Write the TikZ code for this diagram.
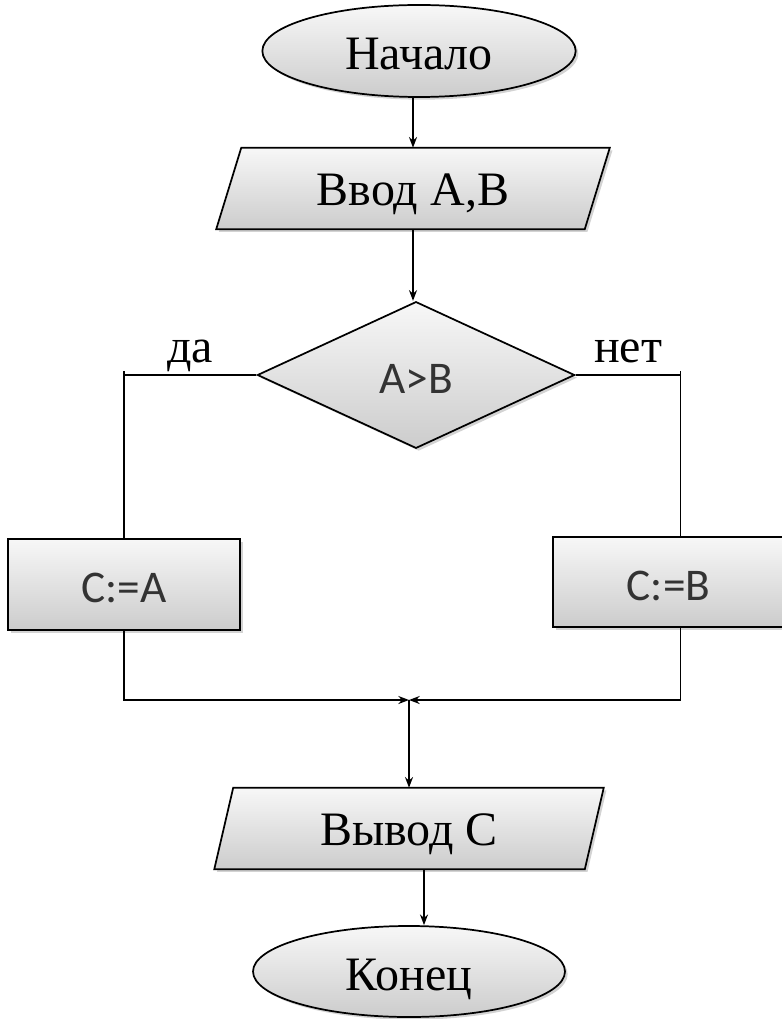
\documentclass[tikz,border=0pt]{standalone}
\usepackage{fontspec}
\setmainfont{Liberation Serif}
\newfontfamily\calibri{Carlito}
\usetikzlibrary{shapes.geometric,shadows,arrows.meta,backgrounds}
\begin{document}
\begin{tikzpicture}[x=0.75pt,y=-0.75pt,
  base/.style={draw=black, line width=1.3pt, top color=gray!6, bottom color=gray!40,
    drop shadow={shadow xshift=2pt,shadow yshift=-2pt,opacity=0.35}, inner sep=0pt},
  bigfont/.style={font=\fontsize{36}{42}\selectfont},
  cfont/.style={font=\calibri\fontsize{34}{40}\selectfont, text=black!80, text height=27.6pt, text depth=0pt},
  term/.style={base, ellipse, minimum width=235pt, minimum height=69pt, bigfont, text height=28.3pt, text depth=0pt},
  io/.style={inner sep=0pt, minimum height=60.75pt, bigfont, text height=24.8pt, text depth=0pt},
  proc/.style={base, rectangle, cfont},
  decis/.style={base, diamond, minimum width=238pt, minimum height=110pt, cfont},
  conn/.style={line width=1.25pt},
  arr/.style={conn, -{Stealth[length=8pt,width=6pt]}},
  lab/.style={bigfont, inner sep=0pt, anchor=base}
]
\useasboundingbox (0,0) rectangle (781,1019);

\node[term] (start) at (419,51) {Начало};
\node[io, minimum width=276pt] (in) at (413,188.5) {Ввод А,В};
\node[decis] (dec) at (416,375) {A>B};
\node[proc, minimum width=174pt, minimum height=68.25pt] (boxA) at (124,584.5) {C:=A};
\node[proc, minimum width=173.25pt, minimum height=67.5pt] (boxB) at (668.5,582) {C:=B};
\coordinate (bBt) at ([xshift=9pt]boxB.north);
\coordinate (bBb) at ([xshift=9pt]boxB.south);
\coordinate (m) at (409,700);
\node[io, minimum width=277.5pt] (out) at (409,828.5) {Вывод С};
\node[term, minimum width=234pt, minimum height=68.25pt] (end) at (409,971.5) {Конец};
\coordinate (oS) at ([xshift=11.25pt]out.south);

\begin{scope}[on background layer]
\path[base] ([xshift=9.4pt]in.north west) -- ([xshift=9.4pt]in.north east)
  -- ([xshift=-9.4pt]in.south east) -- ([xshift=-9.4pt]in.south west) -- cycle;
\path[base] ([xshift=7.1pt]out.north west) -- ([xshift=7.1pt]out.north east)
  -- ([xshift=-7.1pt]out.south east) -- ([xshift=-7.1pt]out.south west) -- cycle;
\end{scope}

\node[lab] (yes) at (190,363) {да};
\node[lab] (no) at (628,363) {нет};

\draw[arr] (start.south -| in.north) -- (in.north);
\draw[arr] (in.south) -- (in.south |- dec.north);
\draw[conn] (dec.west) -- (dec.west -| boxA.north);
\draw[conn] ([yshift=3pt]dec.west -| boxA.north) -- (boxA.north);
\draw[conn] (dec.east) -- (dec.east -| bBt);
\draw[conn] ([yshift=3pt]dec.east -| bBt) -- (bBt);
\draw[arr] (boxA.south) |- (m);
\draw[arr] (bBb) |- (m);
\draw[arr] (m) -- (m |- out.north);
\draw[arr] (oS) -- (oS |- end.north);
\end{tikzpicture}
\end{document}
